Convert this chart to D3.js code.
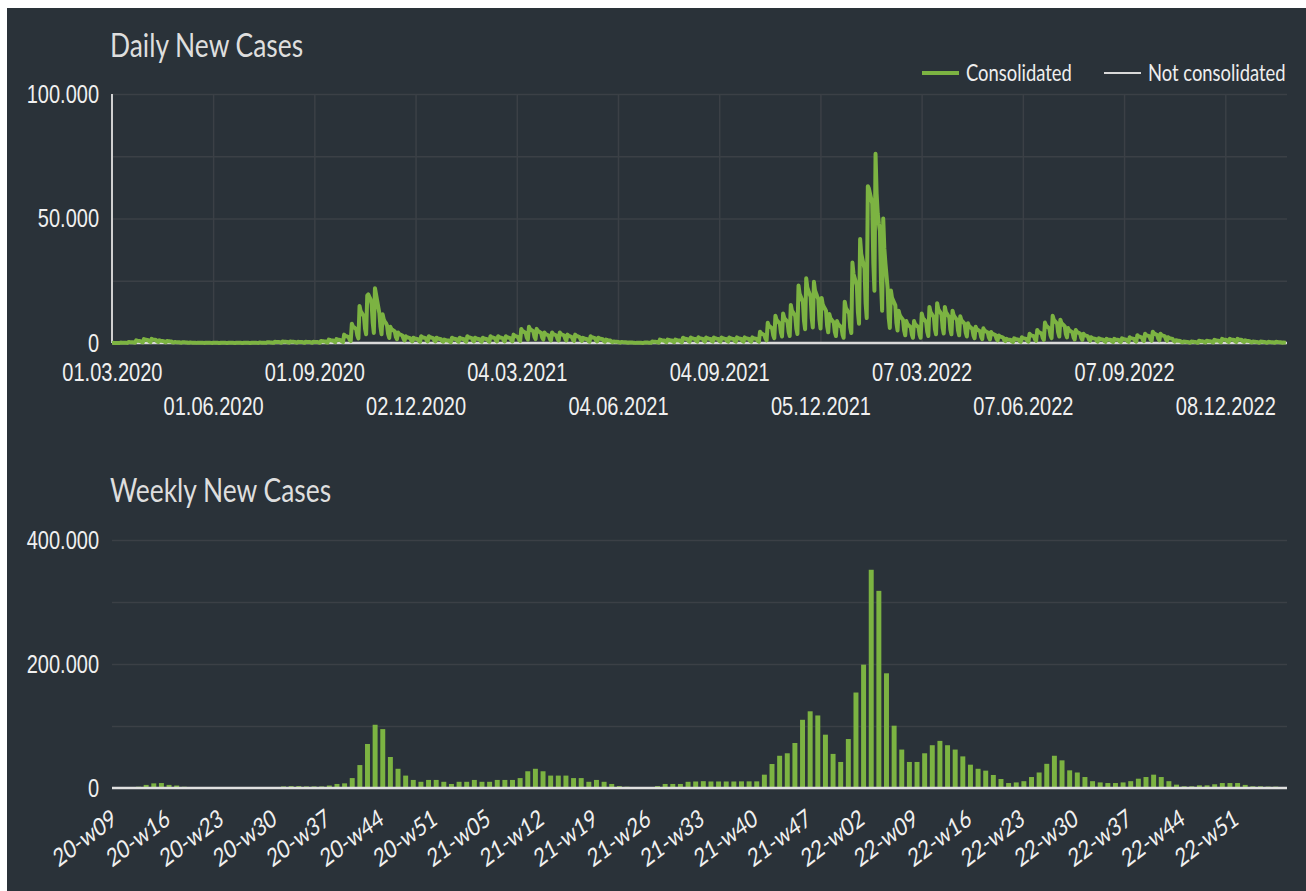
<!DOCTYPE html>
<html>
<head>
<meta charset="utf-8">
<title>Daily and Weekly New Cases</title>
<script src="https://d3js.org/d3.v7.min.js"></script>
<style>
  body { margin: 0; background: #ffffff; }
  svg { display: block; font-family: Lato, "Open Sans", sans-serif; }
  .grid line { stroke: #3b4046; stroke-width: 1.5px; vector-effect: non-scaling-stroke; }
  .grid .domain { display: none; }
  .axis text { fill: #f0f0f0; font-size: 25px; }
  .axis .domain { display: none; }
  .chart-title { fill: #dedede; font-size: 33px; }
  .legend text { fill: #eeeeee; font-size: 23px; }
  .week-label { fill: #f0f0f0; font-size: 25px; }
</style>
</head>
<body>
<div id="chart"></div>
<script>
// daily values, in thousands of cases, one row per ISO week (Mon..Sun)
const dailyStart = "2020-03-01";
const dailyEnd = "2023-02-02";
const dailyCases = [
  0,
  0.06,0.05,0.05,0.05,0.05,0.03,0.01,
  0.17,0.14,0.14,0.13,0.12,0.06,0.04,
  0.42,0.36,0.34,0.32,0.3,0.16,0.1,
  1.05,0.9,0.85,0.8,0.75,0.4,0.25,
  1.58,1.35,1.28,1.2,1.12,0.6,0.37,
  1.68,1.44,1.36,1.28,1.2,0.64,0.4,
  1.05,0.9,0.85,0.8,0.75,0.4,0.25,
  0.84,0.72,0.68,0.64,0.6,0.32,0.2,
  0.42,0.36,0.34,0.32,0.3,0.16,0.1,
  0.32,0.27,0.26,0.24,0.22,0.12,0.07,
  0.19,0.16,0.15,0.14,0.14,0.07,0.05,
  0.15,0.13,0.12,0.11,0.1,0.06,0.03,
  0.13,0.11,0.1,0.1,0.09,0.05,0.02,
  0.11,0.09,0.09,0.08,0.07,0.04,0.02,
  0.11,0.09,0.09,0.08,0.07,0.04,0.02,
  0.08,0.07,0.07,0.06,0.06,0.04,0.02,
  0.11,0.09,0.09,0.08,0.07,0.04,0.02,
  0.11,0.09,0.09,0.08,0.07,0.04,0.02,
  0.13,0.11,0.1,0.1,0.09,0.05,0.02,
  0.19,0.16,0.15,0.14,0.14,0.07,0.05,
  0.32,0.27,0.26,0.24,0.22,0.12,0.07,
  0.53,0.45,0.42,0.4,0.38,0.2,0.12,
  0.63,0.54,0.51,0.48,0.45,0.24,0.15,
  0.63,0.54,0.51,0.48,0.45,0.24,0.15,
  0.53,0.45,0.42,0.4,0.38,0.2,0.12,
  0.53,0.45,0.42,0.4,0.38,0.2,0.12,
  0.53,0.45,0.42,0.4,0.38,0.2,0.12,
  0.84,0.72,0.68,0.64,0.6,0.32,0.2,
  1.37,1.17,1.1,1.04,0.98,0.52,0.32,
  1.58,1.35,1.28,1.2,1.12,0.6,0.37,
  3.36,2.88,2.72,2.56,2.4,1.28,0.8,
  7.77,6.66,6.29,5.92,5.55,2.96,1.85,
  14.9,12.8,12.1,11.4,10.6,5.7,3.5,
  19,19.5,18.5,17.5,15.5,8,4,
  22,19.5,17,14.5,12,6.5,3.5,
  11.5,9.5,8.5,8,7,3.5,2,
  6.51,5.58,5.27,4.96,4.65,2.48,1.55,
  4.2,3.6,3.4,3.2,3,1.6,1,
  2.73,2.34,2.21,2.08,1.95,1.04,0.65,
  2.1,1.8,1.7,1.6,1.5,0.8,0.5,
  2.73,2.34,2.21,2.08,1.95,1.04,0.65,
  2.73,2.34,2.21,2.08,1.95,1.04,0.65,
  2.1,1.8,1.7,1.6,1.5,0.8,0.5,
  1.37,1.17,1.1,1.04,0.98,0.52,0.32,
  2.1,1.8,1.7,1.6,1.5,0.8,0.5,
  2.1,1.8,1.7,1.6,1.5,0.8,0.5,
  2.73,2.34,2.21,2.08,1.95,1.04,0.65,
  2.1,1.8,1.7,1.6,1.5,0.8,0.5,
  2.1,1.8,1.7,1.6,1.5,0.8,0.5,
  2.73,2.34,2.21,2.08,1.95,1.04,0.65,
  2.73,2.34,2.21,2.08,1.95,1.04,0.65,
  2.73,2.34,2.21,2.08,1.95,1.04,0.65,
  3.36,2.88,2.72,2.56,2.4,1.28,0.8,
  5.67,4.86,4.59,4.32,4.05,2.16,1.35,
  6.51,5.58,5.27,4.96,4.65,2.48,1.55,
  5.67,4.86,4.59,4.32,4.05,2.16,1.35,
  4.2,3.6,3.4,3.2,3,1.6,1,
  4.2,3.6,3.4,3.2,3,1.6,1,
  4.2,3.6,3.4,3.2,3,1.6,1,
  3.36,2.88,2.72,2.56,2.4,1.28,0.8,
  3.36,2.88,2.72,2.56,2.4,1.28,0.8,
  2.1,1.8,1.7,1.6,1.5,0.8,0.5,
  2.73,2.34,2.21,2.08,1.95,1.04,0.65,
  2.1,1.8,1.7,1.6,1.5,0.8,0.5,
  1.37,1.17,1.1,1.04,0.98,0.52,0.32,
  0.63,0.54,0.51,0.48,0.45,0.24,0.15,
  0.42,0.36,0.34,0.32,0.3,0.16,0.1,
  0.21,0.18,0.17,0.16,0.15,0.08,0.05,
  0.11,0.09,0.09,0.08,0.07,0.04,0.02,
  0.21,0.18,0.17,0.16,0.15,0.08,0.05,
  0.63,0.54,0.51,0.48,0.45,0.24,0.15,
  1.37,1.17,1.1,1.04,0.98,0.52,0.32,
  1.37,1.17,1.1,1.04,0.98,0.52,0.32,
  1.37,1.17,1.1,1.04,0.98,0.52,0.32,
  2.1,1.8,1.7,1.6,1.5,0.8,0.5,
  2.2,1.89,1.79,1.68,1.58,0.84,0.52,
  2.31,1.98,1.87,1.76,1.65,0.88,0.55,
  2.2,1.89,1.79,1.68,1.58,0.84,0.52,
  2.2,1.89,1.79,1.68,1.58,0.84,0.52,
  2.2,1.89,1.79,1.68,1.58,0.84,0.52,
  2.2,1.89,1.79,1.68,1.58,0.84,0.52,
  2.25,1.93,1.82,1.71,1.6,0.86,0.53,
  2.25,1.93,1.82,1.71,1.6,0.86,0.53,
  2.25,1.93,1.82,1.71,1.6,0.86,0.53,
  4.52,3.87,3.66,3.44,3.23,1.72,1.07,
  8.13,6.97,6.58,6.19,5.81,3.1,1.94,
  10.9,9.4,8.8,8.3,7.8,4.2,2.6,
  11.8,10.1,9.5,9,8.4,4.5,2.8,
  15.3,13.1,12.3,11.6,10.9,5.8,3.6,
  23.1,19.8,18.7,17.6,16.5,8.8,5.5,
  26,22.3,21,19.8,18.6,9.9,6.2,
  24.6,21.1,19.9,18.7,17.6,9.4,5.8,
  18.1,15.5,14.6,13.8,12.9,6.9,4.3,
  11.6,9.9,9.4,8.8,8.3,4.4,2.8,
  8.8,7.6,7.1,6.7,6.3,3.4,2.1,
  16.6,14.2,13.4,12.6,11.9,6.3,4,
  32.3,27.7,26.2,24.6,23.1,12.3,7.7,
  41.8,35.8,33.8,31.8,29.9,15.9,10,
  63,62,60,58,56,32,21,
  76,60,52,48,45,24,13,
  50,38,32,27,22,10,6,
  21.1,18.1,17.1,16.1,15.1,8,5,
  13,11.2,10.5,9.9,9.3,5,3.1,
  8.8,7.6,7.1,6.7,6.3,3.4,2.1,
  8.8,7.6,7.1,6.7,6.3,3.4,2.1,
  11.8,10.1,9.5,9,8.4,4.5,2.8,
  14.5,12.4,11.7,11,10.4,5.5,3.5,
  16,13.7,12.9,12.2,11.4,6.1,3.8,
  14.5,12.4,11.7,11,10.4,5.5,3.5,
  13,11.2,10.5,9.9,9.3,5,3.1,
  10.7,9.2,8.7,8.2,7.7,4.1,2.6,
  7.9,6.8,6.4,6,5.6,3,1.9,
  6.51,5.58,5.27,4.96,4.65,2.48,1.55,
  5.88,5.04,4.76,4.48,4.2,2.24,1.4,
  4.41,3.78,3.57,3.36,3.15,1.68,1.05,
  3.05,2.61,2.47,2.32,2.18,1.16,0.72,
  1.68,1.44,1.36,1.28,1.2,0.64,0.4,
  1.89,1.62,1.53,1.44,1.35,0.72,0.45,
  2.31,1.98,1.87,1.76,1.65,0.88,0.55,
  3.72,3.19,3.01,2.83,2.66,1.42,0.88,
  5.25,4.5,4.25,4,3.75,2,1.25,
  8.19,7.02,6.63,6.24,5.85,3.12,1.95,
  10.9,9.4,8.8,8.3,7.8,4.2,2.6,
  9.37,8.03,7.58,7.14,6.69,3.57,2.23,
  5.99,5.13,4.85,4.56,4.28,2.28,1.42,
  5.25,4.5,4.25,4,3.75,2,1.25,
  3.72,3.19,3.01,2.83,2.66,1.42,0.88,
  2.31,1.98,1.87,1.76,1.65,0.88,0.55,
  1.89,1.62,1.53,1.44,1.35,0.72,0.45,
  1.68,1.44,1.36,1.28,1.2,0.64,0.4,
  1.68,1.44,1.36,1.28,1.2,0.64,0.4,
  1.89,1.62,1.53,1.44,1.35,0.72,0.45,
  2.31,1.98,1.87,1.76,1.65,0.88,0.55,
  3.15,2.7,2.55,2.4,2.25,1.2,0.75,
  3.72,3.19,3.01,2.83,2.66,1.42,0.88,
  4.52,3.87,3.66,3.44,3.23,1.72,1.07,
  3.72,3.19,3.01,2.83,2.66,1.42,0.88,
  2.31,1.98,1.87,1.76,1.65,0.88,0.55,
  1.13,0.97,0.92,0.86,0.81,0.43,0.28,
  0.57,0.49,0.46,0.43,0.4,0.22,0.13,
  0.57,0.49,0.46,0.43,0.4,0.22,0.13,
  0.9,0.77,0.73,0.69,0.65,0.34,0.22,
  0.9,0.77,0.73,0.69,0.65,0.34,0.22,
  1.26,1.08,1.02,0.96,0.9,0.48,0.3,
  1.68,1.44,1.36,1.28,1.2,0.64,0.4,
  1.68,1.44,1.36,1.28,1.2,0.64,0.4,
  1.68,1.44,1.36,1.28,1.2,0.64,0.4,
  1.05,0.9,0.85,0.8,0.75,0.4,0.25,
  0.57,0.49,0.46,0.43,0.4,0.22,0.13,
  0.57,0.49,0.46,0.43,0.4,0.22,0.13,
  0.46,0.4,0.37,0.35,0.33,0.18,0.11,
  0.46,0.4,0.37,0.35,0.33,0.18,0.11,
  0.25,0.15,0.1
];

// weekly totals, in thousands of cases, 20-w09 .. 23-w05
const weeklyCases = [
  0,0.3,0.8,2,5,7.5,8,5,4,2,
  1.5,0.9,0.7,0.6,0.5,0.5,0.4,0.5,0.5,0.6,
  0.9,1.5,2.5,3,3,2.5,2.5,2.5,4,6.5,
  7.5,16,37,71,102,95,50,31,20,13,
  10,13,13,10,6.5,10,10,13,10,10,
  13,13,13,16,27,31,27,20,20,20,
  16,16,10,13,10,6.5,3,2,1,0.5,
  1,3,6.5,6.5,6.5,10,10.5,11,10.5,10.5,
  10.5,10.5,10.7,10.7,10.7,21.5,38.7,52,56,72.6,
  110,123.7,117,86,55,42,79,154,199,352,
  318,185,100.5,62,42,42,56,69,76,69,
  62,51,37.6,31,28,21,14.5,8,9,11,
  17.7,25,39,52,44.6,28.5,25,17.7,11,9,
  8,8,9,11,15,17.7,21.5,17.7,11,5.4,
  2.7,2.7,4.3,4.3,6,8,8,8,5,2.7,
  2.7,2.2,2.2,0.5
];

// [year, first week, last week]
const weekSpans = [["20", 9, 53], ["21", 1, 52], ["22", 1, 52], ["23", 1, 5]];
const weekTicks = ["20-w09","20-w16","20-w23","20-w30","20-w37","20-w44","20-w51",
  "21-w05","21-w12","21-w19","21-w26","21-w33","21-w40","21-w47",
  "22-w02","22-w09","22-w16","22-w23","22-w30","22-w37","22-w44","22-w51"];
const dateTicks = ["01.03.2020","01.06.2020","01.09.2020","02.12.2020","04.03.2021","04.06.2021",
  "04.09.2021","05.12.2021","07.03.2022","07.06.2022","07.09.2022","08.12.2022"];
const dailyTicksY = [0, 50000, 100000];
const dailyGridY = [25000, 50000, 75000, 100000];
const weeklyTicksY = [0, 200000, 400000];
const weeklyGridY = [100000, 200000, 300000, 400000];
const legendItems = [
  {name: "Consolidated", color: "#7cb342"},
  {name: "Not consolidated", color: "#d9d9d9"}
];

// the screenshot is squeezed horizontally, so everything is drawn in a wider
// virtual space and squeezed back by the viewBox
const S = 0.8;
const W = 1306, H = 891;
const px = v => v / S;
const green = "#7cb342";

const loc = d3.formatLocale({decimal: ",", thousands: ".", grouping: [3], currency: ["", ""]});
const fmt = loc.format(",");
const parseDate = d3.utcParse("%Y-%m-%d");
const parseTick = d3.utcParse("%d.%m.%Y");
const fmtTick = d3.utcFormat("%d.%m.%Y");

const svg = d3.select("#chart").append("svg")
  .attr("width", W)
  .attr("height", H)
  .attr("viewBox", `0 0 ${W / S} ${H}`)
  .attr("preserveAspectRatio", "none");

svg.append("rect")
  .attr("x", px(7)).attr("y", 8)
  .attr("width", px(W - 7)).attr("height", H - 8)
  .attr("fill", "#2a3239");

// ---------- Daily New Cases ----------
const start = parseDate(dailyStart);
const daily = dailyCases.map((v, k) => ({date: d3.utcDay.offset(start, k), value: v * 1000}));

const x1 = d3.scaleUtc().domain([start, parseDate(dailyEnd)]).range([px(112), px(1287)]);
const y1 = d3.scaleLinear().domain([0, 100000]).range([343, 94]);
const tickDates = dateTicks.map(parseTick);

svg.append("g")
  .attr("class", "grid")
  .attr("transform", `translate(${px(112)},0)`)
  .call(d3.axisLeft(y1).tickValues(dailyGridY).tickSize(-(px(1287) - px(112))).tickFormat(""));

svg.append("g")
  .attr("class", "grid")
  .attr("transform", "translate(0,343)")
  .call(d3.axisBottom(x1).tickValues(tickDates.slice(1)).tickSize(-(343 - 94)).tickFormat(""));

// zero line
svg.append("line")
  .attr("x1", px(112)).attr("x2", px(1287))
  .attr("y1", y1(0)).attr("y2", y1(0))
  .attr("stroke", "#d9d9d9").attr("stroke-width", 2.5)
  .style("vector-effect", "non-scaling-stroke");

// y axis line
svg.append("line")
  .attr("x1", px(112)).attr("x2", px(112))
  .attr("y1", 94).attr("y2", 343)
  .attr("stroke", "#d0d0d0").attr("stroke-width", 2)
  .style("vector-effect", "non-scaling-stroke");

svg.append("path")
  .datum(daily)
  .attr("fill", "none")
  .attr("stroke", green)
  .attr("stroke-width", 4)
  .attr("stroke-linejoin", "round")
  .style("vector-effect", "non-scaling-stroke")
  .attr("d", d3.line().x(d => x1(d.date)).y(d => y1(d.value)));

svg.append("g")
  .attr("class", "axis")
  .attr("transform", `translate(${px(112)},0)`)
  .call(d3.axisLeft(y1).tickValues(dailyTicksY).tickFormat(fmt).tickSize(0).tickPadding(px(13)));

svg.append("g")
  .attr("class", "axis")
  .attr("transform", "translate(0,343)")
  .call(d3.axisBottom(x1).tickValues(tickDates).tickFormat(fmtTick).tickSize(0).tickSizeOuter(0))
  .selectAll("text")
  .attr("dy", null)
  .attr("y", (d, i) => i % 2 ? 72 : 38);

svg.append("text")
  .attr("class", "chart-title")
  .attr("x", px(110)).attr("y", 57)
  .text("Daily New Cases");

// legend
const legend = svg.append("g").attr("class", "legend");
const legendX = [922, 1104];
legendItems.forEach((item, i) => {
  legend.append("line")
    .attr("x1", px(legendX[i])).attr("x2", px(legendX[i] + 37))
    .attr("y1", 73).attr("y2", 73)
    .attr("stroke", item.color)
    .attr("stroke-width", i === 0 ? 4 : 2)
    .style("vector-effect", "non-scaling-stroke");
  legend.append("text")
    .attr("x", px(legendX[i] + 44)).attr("y", 73)
    .attr("dy", "0.35em")
    .text(item.name);
});

// ---------- Weekly New Cases ----------
const weekNames = [];
weekSpans.forEach(([yy, a, b]) => {
  for (let w = a; w <= b; w++) weekNames.push(`${yy}-w${String(w).padStart(2, "0")}`);
});
const weekly = weekNames.map((name, i) => ({name, value: weeklyCases[i] * 1000}));

const x2 = d3.scaleBand().domain(weekNames).range([px(112), px(1287)]).paddingInner(0.35).paddingOuter(0.15);
const y2 = d3.scaleLinear().domain([0, 400000]).range([788, 540]);

svg.append("g")
  .attr("class", "grid")
  .attr("transform", `translate(${px(112)},0)`)
  .call(d3.axisLeft(y2).tickValues(weeklyGridY).tickSize(-(px(1287) - px(112))).tickFormat(""));

svg.append("g")
  .selectAll("rect")
  .data(weekly)
  .join("rect")
  .attr("x", d => x2(d.name))
  .attr("width", x2.bandwidth())
  .attr("y", d => y2(d.value))
  .attr("height", d => y2(0) - y2(d.value))
  .attr("fill", green);

svg.append("line")
  .attr("x1", px(112)).attr("x2", px(1287))
  .attr("y1", y2(0)).attr("y2", y2(0))
  .attr("stroke", "#e0e0e0").attr("stroke-width", 2.5)
  .style("vector-effect", "non-scaling-stroke");

svg.append("g")
  .attr("class", "axis")
  .attr("transform", `translate(${px(112)},0)`)
  .call(d3.axisLeft(y2).tickValues(weeklyTicksY).tickFormat(fmt).tickSize(0).tickPadding(px(13)));

svg.append("g")
  .selectAll("text")
  .data(weekTicks)
  .join("text")
  .attr("class", "week-label")
  .attr("text-anchor", "end")
  .attr("transform", d => `translate(${x2(d) + x2.bandwidth() / 2 + 3},823) rotate(-31)`)
  .text(d => d);

svg.append("text")
  .attr("class", "chart-title")
  .attr("x", px(110)).attr("y", 502)
  .text("Weekly New Cases");
</script>
</body>
</html>
